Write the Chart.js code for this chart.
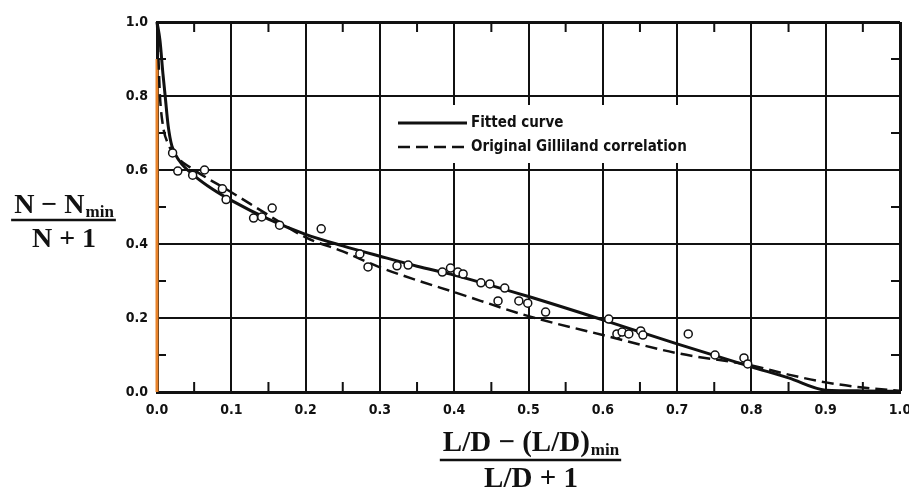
<!DOCTYPE html>
<html>
<head>
<meta charset="utf-8">
<script src="https://cdn.jsdelivr.net/npm/chart.js@4.4.1/dist/chart.umd.min.js"></script>
<style>
  html, body { margin: 0; padding: 0; background: #fff; }
</style>
</head>
<body>
<canvas id="chart" width="909" height="490"></canvas>
<script>
// fitted curve (solid)
const fittedX = [0, 0.004, 0.008, 0.011, 0.015, 0.02, 0.03, 0.05, 0.075, 0.1, 0.15, 0.2, 0.25, 0.3, 0.35, 0.4, 0.5, 0.6, 0.7, 0.8, 0.85, 0.9, 0.95, 1.0];
const fittedY = [1.0, 0.95, 0.86, 0.8, 0.72, 0.665, 0.625, 0.585, 0.548, 0.518, 0.467, 0.426, 0.395, 0.367, 0.34, 0.316, 0.258, 0.195, 0.13, 0.068, 0.038, 0.005, 0.003, 0.002];

// original Gilliland correlation (dashed)
const gillX = [0, 0.002, 0.004, 0.008, 0.015, 0.027, 0.05, 0.1, 0.15, 0.2, 0.25, 0.3, 0.35, 0.4, 0.5, 0.6, 0.7, 0.8, 0.85, 0.9, 0.95, 1.0];
const gillY = [1.0, 0.9, 0.8, 0.72, 0.67, 0.635, 0.6, 0.54, 0.478, 0.418, 0.38, 0.337, 0.302, 0.27, 0.205, 0.154, 0.105, 0.072, 0.047, 0.026, 0.012, 0.003];

// data points (open circles)
const ptsX = [0.021, 0.028, 0.048, 0.064, 0.088, 0.093, 0.13, 0.141, 0.155, 0.165, 0.221, 0.273, 0.284,
  0.323, 0.338, 0.384, 0.395, 0.405, 0.412, 0.436, 0.448, 0.459, 0.468, 0.487, 0.499, 0.523,
  0.608, 0.619, 0.626, 0.635, 0.651, 0.654, 0.715, 0.751, 0.79, 0.795];
const ptsY = [0.646, 0.597, 0.586, 0.6, 0.549, 0.52, 0.47, 0.473, 0.497, 0.451, 0.441, 0.373, 0.338,
  0.341, 0.343, 0.324, 0.335, 0.324, 0.319, 0.295, 0.292, 0.246, 0.281, 0.246, 0.24, 0.216,
  0.197, 0.157, 0.162, 0.157, 0.165, 0.154, 0.157, 0.1, 0.092, 0.076];

// orange marker along x = 0
const orangeX = [0, 0];
const orangeY = [0, 0.9];

const xTickLabels = ['0.0', '0.1', '0.2', '0.3', '0.4', '0.5', '0.6', '0.7', '0.8', '0.9', '1.0'];
const yTickLabels = ['0.0', '0.2', '0.4', '0.6', '0.8', '1.0'];
const xMinor = [0.05, 0.15, 0.25, 0.35, 0.45, 0.55, 0.65, 0.75, 0.85, 0.95];
const yMinor = [0.1, 0.3, 0.5, 0.7, 0.9];

const toPts = (xs, ys) => xs.map((v, i) => ({x: v, y: ys[i]}));
const INK = '#111';
const tickFont = {family: '"Liberation Sans Narrow", "DejaVu Sans Condensed", sans-serif', size: 14, weight: 'bold'};

const minorTicks = {
  id: 'minorTicks',
  beforeDatasetsDraw(chart) {
    const {ctx, chartArea: a, scales: {x, y}} = chart;
    ctx.save();
    ctx.strokeStyle = INK; ctx.lineWidth = 2;
    ctx.beginPath();
    xMinor.forEach(v => {
      const px = x.getPixelForValue(v);
      ctx.moveTo(px, a.bottom); ctx.lineTo(px, a.bottom - 10);
      ctx.moveTo(px, a.top); ctx.lineTo(px, a.top + 10);
    });
    yMinor.forEach(v => {
      const py = y.getPixelForValue(v);
      ctx.moveTo(a.left, py); ctx.lineTo(a.left + 9, py);
      ctx.moveTo(a.right, py); ctx.lineTo(a.right - 9, py);
    });
    ctx.stroke();

    // legend box
    ctx.fillStyle = '#fff';
    ctx.fillRect(384, 105, 336, 58);
    ctx.lineWidth = 3;
    ctx.beginPath(); ctx.moveTo(398, 123); ctx.lineTo(467, 123); ctx.stroke();
    ctx.lineWidth = 2.5;
    ctx.setLineDash([12, 6]);
    ctx.beginPath(); ctx.moveTo(398, 147); ctx.lineTo(467, 147); ctx.stroke();
    ctx.setLineDash([]);
    ctx.fillStyle = INK;
    ctx.font = 'bold 15px "Liberation Sans Narrow", "DejaVu Sans Condensed", sans-serif';
    ctx.textBaseline = 'middle';
    ctx.fillText('Fitted curve', 471, 123);
    ctx.fillText('Original Gilliland correlation', 471, 147);
    ctx.restore();
  }
};

function fraction(ctx, cx, numBase, top, sub, bottom, size, barY) {
  const main = `bold ${size}px "Liberation Serif", "DejaVu Serif", serif`;
  const small = `bold ${Math.round(size * 0.6)}px "Liberation Serif", "DejaVu Serif", serif`;
  ctx.font = main;
  const w1 = ctx.measureText(top).width;
  ctx.font = small;
  const w2 = ctx.measureText(sub).width;
  const total = w1 + w2 + 1;
  const x0 = cx - total / 2;
  ctx.textAlign = 'left';
  ctx.textBaseline = 'alphabetic';
  ctx.font = main;
  ctx.fillText(top, x0, numBase);
  ctx.font = small;
  ctx.fillText(sub, x0 + w1 + 1, numBase + 4);
  ctx.lineWidth = 2.5;
  ctx.beginPath(); ctx.moveTo(x0 - 3, barY); ctx.lineTo(x0 + total + 2, barY); ctx.stroke();
  ctx.font = main;
  ctx.textAlign = 'center';
  ctx.fillText(bottom, cx, barY + 27);
}

const axisTitles = {
  id: 'axisTitles',
  afterDraw(chart) {
    const ctx = chart.ctx;
    ctx.save();
    ctx.fillStyle = INK; ctx.strokeStyle = INK;
    fraction(ctx, 64, 213, 'N \u2212 N', 'min', 'N + 1', 28, 220);
    fraction(ctx, 531, 451, 'L/D \u2212 (L/D)', 'min', 'L/D + 1', 29, 460);
    ctx.restore();
  }
};

const isMajorY = v => Math.round(v * 10) % 2 === 0;

new Chart(document.getElementById('chart'), {
  type: 'scatter',
  data: {
    datasets: [
      {
        label: 'Data',
        data: toPts(ptsX, ptsY),
        pointRadius: 4,
        pointBorderWidth: 1.5,
        pointBorderColor: INK,
        pointBackgroundColor: '#fff',
        showLine: false
      },
      {
        label: 'Fitted curve',
        data: toPts(fittedX, fittedY),
        showLine: true,
        borderColor: INK,
        borderWidth: 3,
        pointRadius: 0,
        cubicInterpolationMode: 'monotone',
        clip: false
      },
      {
        label: 'Original Gilliland correlation',
        data: toPts(gillX, gillY),
        showLine: true,
        borderColor: INK,
        borderWidth: 2.5,
        borderDash: [12, 6],
        pointRadius: 0,
        cubicInterpolationMode: 'monotone',
        clip: false
      },
      {
        label: 'marker',
        data: toPts(orangeX, orangeY),
        showLine: true,
        borderColor: '#e8832b',
        borderWidth: 3,
        pointRadius: 0,
        clip: false
      }
    ]
  },
  options: {
    responsive: false,
    devicePixelRatio: 1,
    animation: false,
    layout: {padding: {left: 0, right: 9, top: 22, bottom: 0}},
    plugins: {legend: {display: false}, tooltip: {enabled: false}},
    scales: {
      x: {
        type: 'linear', min: 0, max: 1,
        afterFit: s => { s.height = 98; s.paddingLeft = 0; s.paddingRight = 0; },
        ticks: {
          stepSize: 0.1, autoSkip: false, maxRotation: 0, padding: 10, color: INK, font: tickFont,
          callback: (v) => xTickLabels[Math.round(v * 10)]
        },
        grid: {
          drawTicks: false, color: INK,
          lineWidth: c => (c.tick && c.tick.value === 1 ? 3 : 2)
        },
        border: {color: INK, width: 3}
      },
      y: {
        type: 'linear', min: 0, max: 1,
        afterFit: s => { s.width = 157; s.paddingTop = 0; s.paddingBottom = 0; },
        ticks: {
          stepSize: 0.1, autoSkip: false, padding: 9, color: INK, font: tickFont,
          callback: (v) => isMajorY(v) ? yTickLabels[Math.round(v * 5)] : ''
        },
        grid: {
          drawTicks: false,
          color: c => (c.tick && isMajorY(c.tick.value) ? INK : 'rgba(0,0,0,0)'),
          lineWidth: c => (c.tick && c.tick.value === 1 ? 3 : 2)
        },
        border: {color: INK, width: 3}
      }
    }
  },
  plugins: [minorTicks, axisTitles]
});
</script>
</body>
</html>
